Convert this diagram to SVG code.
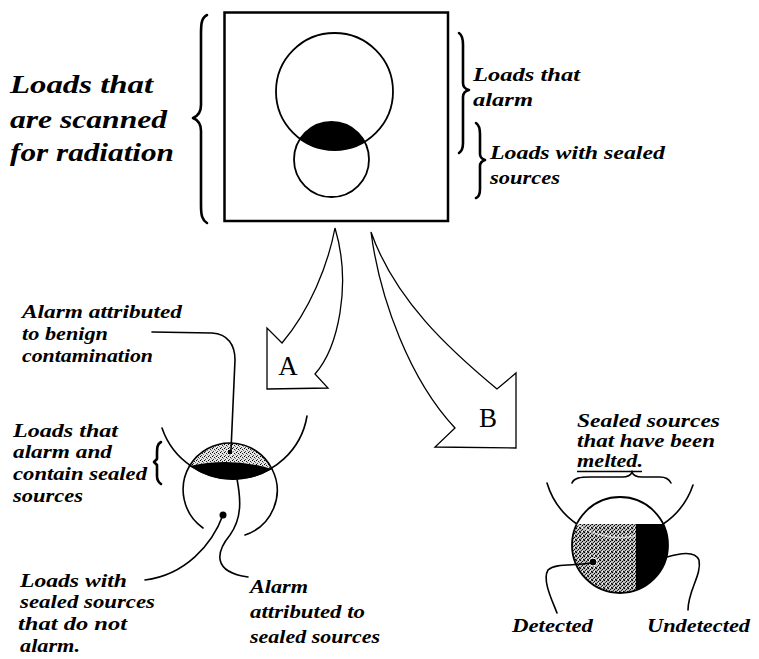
<svg xmlns="http://www.w3.org/2000/svg" width="759" height="659" viewBox="0 0 759 659">
<style>
.s{font-family:"Liberation Serif","DejaVu Serif",serif;font-style:italic;font-weight:bold;font-size:19px;fill:#000}
.b{font-size:25px}
.L{font-family:"Liberation Serif","DejaVu Serif",serif;font-size:27px;fill:#000}
.ln{fill:none;stroke:#000;stroke-width:1.6;stroke-linecap:round}
.br{fill:none;stroke:#000;stroke-width:2.6;stroke-linecap:round;stroke-linejoin:round}
.ar{fill:#fff;stroke:#000;stroke-width:1.3;stroke-linejoin:miter}
</style>
<defs>
<pattern id="stipA" width="4" height="4" patternUnits="userSpaceOnUse">
<rect width="4" height="4" fill="#e4e4e4"/>
<rect x="0" y="0" width="1" height="1" fill="#000"/>
<rect x="2" y="1" width="1" height="1" fill="#222"/>
<rect x="1" y="3" width="1" height="1" fill="#444"/>
<rect x="3" y="2" width="1" height="1" fill="#777"/>
</pattern>
<pattern id="stipB" width="4" height="4" patternUnits="userSpaceOnUse">
<rect width="4" height="4" fill="#bdbdbd"/>
<rect x="0" y="0" width="1" height="1" fill="#000"/>
<rect x="2" y="1" width="1" height="1" fill="#000"/>
<rect x="1" y="2" width="1" height="1" fill="#222"/>
<rect x="3" y="3" width="1" height="1" fill="#000"/>
<rect x="3" y="0" width="1" height="1" fill="#555"/>
<rect x="0" y="3" width="1" height="1" fill="#444"/>
<rect x="2" y="3" width="1" height="1" fill="#fff"/>
</pattern>
</defs>
<rect width="759" height="659" fill="#fff"/>

<g id="scanned-box">
<rect x="224.5" y="12.5" width="223.5" height="208.5" fill="none" stroke="#000" stroke-width="2.5"/>
<circle cx="334.5" cy="91.5" r="58.5" fill="none" stroke="#000" stroke-width="1.8"/>
<circle cx="331.5" cy="159.5" r="37.5" fill="none" stroke="#000" stroke-width="1.8"/>
<path d="M300.2,138.9 A37.5 37.5 0 0 1 364.5,141.7 A58.5 58.5 0 0 1 300.2,138.9 Z" fill="#000"/>
</g>

<g id="label-scanned">
<path class="br" d="M207,15 C201,18 201,25 201,35 L201,105 C201,112 198,116 193,118 C198,120 201,124 201,131 L201,205 C201,215 202,220 207,223"/>
<text class="s b" x="10" y="93" textLength="143" lengthAdjust="spacingAndGlyphs">Loads that</text>
<text class="s b" x="10" y="128" textLength="157" lengthAdjust="spacingAndGlyphs">are scanned</text>
<text class="s b" x="10" y="161" textLength="164" lengthAdjust="spacingAndGlyphs">for radiation</text>
</g>

<g id="label-alarm">
<path class="br" stroke-width="2" d="M459,33 C462,35 463,39 463,45 L463,83 C463,87 465,89 469,90 C465,91 463,93 463,97 L463,143 C463,148 462,151 459,153"/>
<text class="s" x="473" y="81" textLength="107" lengthAdjust="spacingAndGlyphs">Loads that</text>
<text class="s" x="473" y="106" textLength="60" lengthAdjust="spacingAndGlyphs">alarm</text>
</g>

<g id="label-sealed">
<path class="br" stroke-width="2" d="M476,123 C479,125 480,129 480,134 L480,154 C480,157 482,159 485,160 C482,161 480,163 480,166 L480,189 C480,194 479,197 476,198"/>
<text class="s" x="490" y="159" textLength="175" lengthAdjust="spacingAndGlyphs">Loads with sealed</text>
<text class="s" x="490" y="184" textLength="70" lengthAdjust="spacingAndGlyphs">sources</text>
</g>

<g id="connectors">
<path id="arrow-A" class="ar" d="M335,228 C328,265 310,310 282,343 L267,328 L267,389 L328,388 L315,374 C338,348 352,285 335,228 Z"/>
<path id="arrow-B" class="ar" d="M371,232 C380,300 410,380 455,428 L435,447 L516,448 L516,373 L497,389 C450,350 395,300 371,232 Z"/>
</g>
<g id="node-A"><text class="L" x="288" y="375" text-anchor="middle">A</text></g>
<g id="node-B"><text class="L" x="488" y="427" text-anchor="middle">B</text></g>

<g id="outcome-A">
<path d="M189.5,466 A47 47 0 0 1 272,469 Q231,456.5 189.5,466 Z" fill="url(#stipA)"/>
<path d="M189.5,466 Q231,456.5 272,469 A75 75 0 0 1 189.5,466 Z" fill="#000"/>
<path class="ln" d="M162,428 A75 75 0 0 0 307,416"/>
<path class="ln" d="M189.5,466 A47 47 0 0 1 272,469"/>
<path class="ln" d="M189.5,466 A47 47 0 0 0 203,528"/>
<path class="ln" d="M272,469 A47 47 0 0 1 245,535"/>
<circle cx="230" cy="452" r="3" fill="#000" stroke="#fff" stroke-width="1"/>
<circle cx="223" cy="515" r="3.5" fill="#000"/>
<path class="br" stroke-width="1.3" d="M161,442 C157,444 157,448 157,455 L157,459 L154,462 L157,465 L157,476 C157,480 158,482 161,484"/>
</g>

<g id="leaders-A">
<path class="ln" d="M152,332 L212,333 C228,334 235,345 235,360 L231,450"/>
<path class="ln" d="M223,515 C212,545 185,575 145,580"/>
<path class="ln" d="M237,479 C241,500 242,518 230,535 C216,552 212,572 248,577"/>
</g>

<g id="labels-A">
<text class="s" x="22" y="318" textLength="160" lengthAdjust="spacingAndGlyphs">Alarm attributed</text>
<text class="s" x="22" y="340" textLength="86" lengthAdjust="spacingAndGlyphs">to benign</text>
<text class="s" x="22" y="362" textLength="131" lengthAdjust="spacingAndGlyphs">contamination</text>
<text class="s" x="13" y="437" textLength="105" lengthAdjust="spacingAndGlyphs">Loads that</text>
<text class="s" x="13" y="458" textLength="99" lengthAdjust="spacingAndGlyphs">alarm and</text>
<text class="s" x="13" y="480" textLength="134" lengthAdjust="spacingAndGlyphs">contain sealed</text>
<text class="s" x="13" y="502" textLength="70" lengthAdjust="spacingAndGlyphs">sources</text>
<text class="s" x="20" y="587" textLength="107" lengthAdjust="spacingAndGlyphs">Loads with</text>
<text class="s" x="20" y="608" textLength="135" lengthAdjust="spacingAndGlyphs">sealed sources</text>
<text class="s" x="18" y="630" textLength="109" lengthAdjust="spacingAndGlyphs">that do not</text>
<text class="s" x="20" y="652" textLength="60" lengthAdjust="spacingAndGlyphs">alarm.</text>
<text class="s" x="250" y="593" textLength="58" lengthAdjust="spacingAndGlyphs">Alarm</text>
<text class="s" x="250" y="618" textLength="115" lengthAdjust="spacingAndGlyphs">attributed to</text>
<text class="s" x="250" y="643" textLength="130" lengthAdjust="spacingAndGlyphs">sealed sources</text>
</g>

<g id="outcome-B">
<path d="M576.8,524 L636,524 L636,590.3 A48 48 0 0 1 576.8,524 Z" fill="url(#stipB)"/>
<path d="M636,524 L663.2,524 A48 48 0 0 1 636,590.3 Z" fill="#000"/>
<circle cx="620" cy="545" r="48" fill="none" stroke="#000" stroke-width="1.8"/>
<path class="ln" d="M547,483 A76.5 76.5 0 0 0 576.8,524"/>
<path class="ln" d="M663.2,524 A76.5 76.5 0 0 0 693,485"/>
<path d="M576.8,524 A76.5 76.5 0 0 0 636,535.8" fill="none" stroke="#fff" stroke-width="1.5" opacity="0.6"/>
<circle cx="593" cy="562" r="4" fill="#000" stroke="#fff" stroke-width="1"/>
<path class="ln" d="M572,483 C574,478 580,477 590,477 L622,477 C628,477 631,475 632,472 C633,475 636,477 642,477 L660,477 C666,477 669,479 671,483"/>
<line x1="577" y1="471.5" x2="642" y2="471.5" stroke="#000" stroke-width="1.4"/>
</g>

<g id="leaders-B">
<path class="ln" d="M590,563 C575,566 555,563 548,570 C542,580 552,600 557,613"/>
<path class="ln" d="M667,557 C680,553 695,550 699,560 C702,575 688,590 688,610"/>
</g>

<g id="labels-B">
<text class="s" x="577" y="427" textLength="143" lengthAdjust="spacingAndGlyphs">Sealed sources</text>
<text class="s" x="577" y="447" textLength="138" lengthAdjust="spacingAndGlyphs">that have been</text>
<text class="s" x="577" y="467" textLength="66" lengthAdjust="spacingAndGlyphs">melted.</text>
<text class="s" x="512" y="632" textLength="81" lengthAdjust="spacingAndGlyphs">Detected</text>
<text class="s" x="647" y="632" textLength="103" lengthAdjust="spacingAndGlyphs">Undetected</text>
</g>
</svg>
